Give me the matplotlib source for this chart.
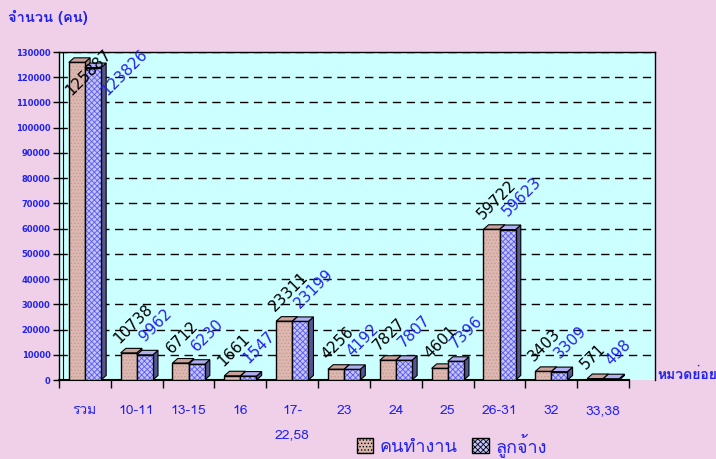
import numpy as np
import matplotlib
matplotlib.use("Agg")
import matplotlib.pyplot as plt
from matplotlib.patches import Polygon, Patch
from matplotlib import font_manager, ft2font

categories = ["รวม", "10-11", "13-15", "16", "17-\n22,58", "23", "24", "25",
              "26-31", "32", "33,38"]
workers = [125887, 10738, 6712, 1661, 23311, 4256, 7827, 4601, 59722, 3403, 571]
employees = [123826, 9962, 6230, 1547, 23199, 4192, 7807, 7396, 59623, 3309, 498]
series_names = ["คนทำงาน", "ลูกจ้าง"]
y_title = "จำนวน (คน)"
x_title = "หมวดย่อย"


# find an installed font that can draw Thai
def thai_font():
    for f in font_manager.fontManager.ttflist:
        try:
            cmap = ft2font.FT2Font(f.fname).get_charmap()
        except Exception:
            continue
        if 0x0E01 in cmap and 0x0E33 in cmap:
            return f.name
    return "DejaVu Sans"


tfont = thai_font()
plt.rcParams['font.family'] = [tfont, 'DejaVu Sans']
plt.rcParams['hatch.linewidth'] = 0.6

BG = '#F0D0E8'
WALL = '#CCFFFF'
BLUE = '#2222EE'
YMAX = 130000

fig = plt.figure(figsize=(7.16, 4.59), dpi=100, facecolor=BG)
ax = fig.add_axes([59/716, 79/459, 596/716, 328/459])
ax.set_facecolor(WALL)
ax.set_xlim(-0.5, 11.0)
ax.set_ylim(0, YMAX)

x = np.arange(len(categories))
w = 0.31
ddx = 0.1          # depth of the 3d bars, x units
ddy = 1800         # depth of the 3d bars, y units

styles = [
    dict(face='#DDB8B0', hatch='.....', hc='#C49A94', top='#C9A29C', side='#A8847E'),
    dict(face='#C4C4FF', hatch='xxxxxx', hc='#5A5AF0', top='#B0B0F0', side='#55558F'),
]

for k, vals in enumerate([workers, employees]):
    st = styles[k]
    xs = x + (k - 0.5) * w
    for xi, v in zip(xs, vals):
        l, r = xi - w/2, xi + w/2
        side = Polygon([(r, 0), (r + ddx, ddy), (r + ddx, v + ddy), (r, v)],
                       closed=True, facecolor=st['side'], edgecolor='black',
                       lw=0.8, zorder=3 + 2*k)
        top = Polygon([(l, v), (l + ddx, v + ddy), (r + ddx, v + ddy), (r, v)],
                      closed=True, facecolor=st['top'], edgecolor='black',
                      lw=0.8, zorder=3 + 2*k)
        ax.add_patch(side)
        ax.add_patch(top)
    ax.bar(xs, vals, w, color=st['face'], edgecolor=st['hc'], hatch=st['hatch'],
           lw=0, zorder=4 + 2*k)
    ax.bar(xs, vals, w, fill=False, edgecolor='black', lw=1.0, zorder=4.5 + 2*k)

# data labels (kept inside the plot area like excel does)
label_cap = YMAX * (1 - 50/328)
for i in range(len(categories)):
    clamped = workers[i] > label_cap
    ax.annotate(str(workers[i]), (x[i] - w/2, min(workers[i], label_cap)),
                xytext=(-4, 4) if clamped else (-6.5, 6.5),
                textcoords='offset points', rotation=45, rotation_mode='anchor',
                ha='left', va='baseline', fontsize=11, color='black', zorder=10,
                family='DejaVu Sans')
    clamped = employees[i] > label_cap
    ax.annotate(str(employees[i]), (x[i] + w/2, min(employees[i], label_cap)),
                xytext=(10, 4) if clamped else (0, 9),
                textcoords='offset points', rotation=45, rotation_mode='anchor',
                ha='left', va='baseline', fontsize=11, color=BLUE, zorder=10,
                family='DejaVu Sans')

# grid
for yv in np.arange(10000, YMAX + 1, 10000):
    ax.axhline(yv, color='black', lw=1.0, ls=(0, (6, 4)), zorder=1)

# axes / ticks
ax.set_yticks(np.arange(0, YMAX + 1, 10000))
ax.set_yticklabels([str(v) for v in range(0, YMAX + 1, 10000)], fontsize=6,
                   fontweight='bold', color=BLUE, family='DejaVu Sans')
ax.tick_params(axis='y', length=4, width=1, pad=2)
ax.set_xticks(np.arange(-0.5, 11, 1.0))
ax.set_xticklabels([])
ax.tick_params(axis='x', which='major', length=6, width=1, direction='out')
ax.set_xticks(x, minor=True)
ax.set_xticklabels(categories, minor=True, fontsize=10, color=BLUE)
ax.tick_params(axis='x', which='minor', length=0, pad=18)
for lab in ax.get_xticklabels(minor=True):
    lab.set_linespacing(2.35)
for s in ax.spines.values():
    s.set_color('black')
    s.set_linewidth(1.0)
ax.spines['bottom'].set_bounds(-0.5, 10.5)
ax.spines['bottom'].set_linewidth(1.5)
ax.axvline(-0.42, color='black', lw=0.8, zorder=2)

fig.text(8/716, 1 - 17/459, y_title, fontsize=10.5, fontweight='bold', color=BLUE,
         va='center', ha='left')
fig.text(657/716, 1 - 375/459, x_title, fontsize=10, fontweight='bold', color=BLUE,
         va='center', ha='left')

handles = [Patch(facecolor=styles[k]['face'], edgecolor=styles[k]['hc'],
                 hatch=styles[k]['hatch']) for k in range(2)]
leg = fig.legend(handles, series_names, loc='center', bbox_to_anchor=(452/716, 1 - 445/459),
                 ncol=2, frameon=False, fontsize=13, handlelength=0.9,
                 handleheight=0.9, handletextpad=0.4, columnspacing=0.8)
for t in leg.get_texts():
    t.set_color(BLUE)
for p in leg.get_patches():
    p.set_edgecolor('black')

fig.savefig("out.png", dpi=100, facecolor=BG)
